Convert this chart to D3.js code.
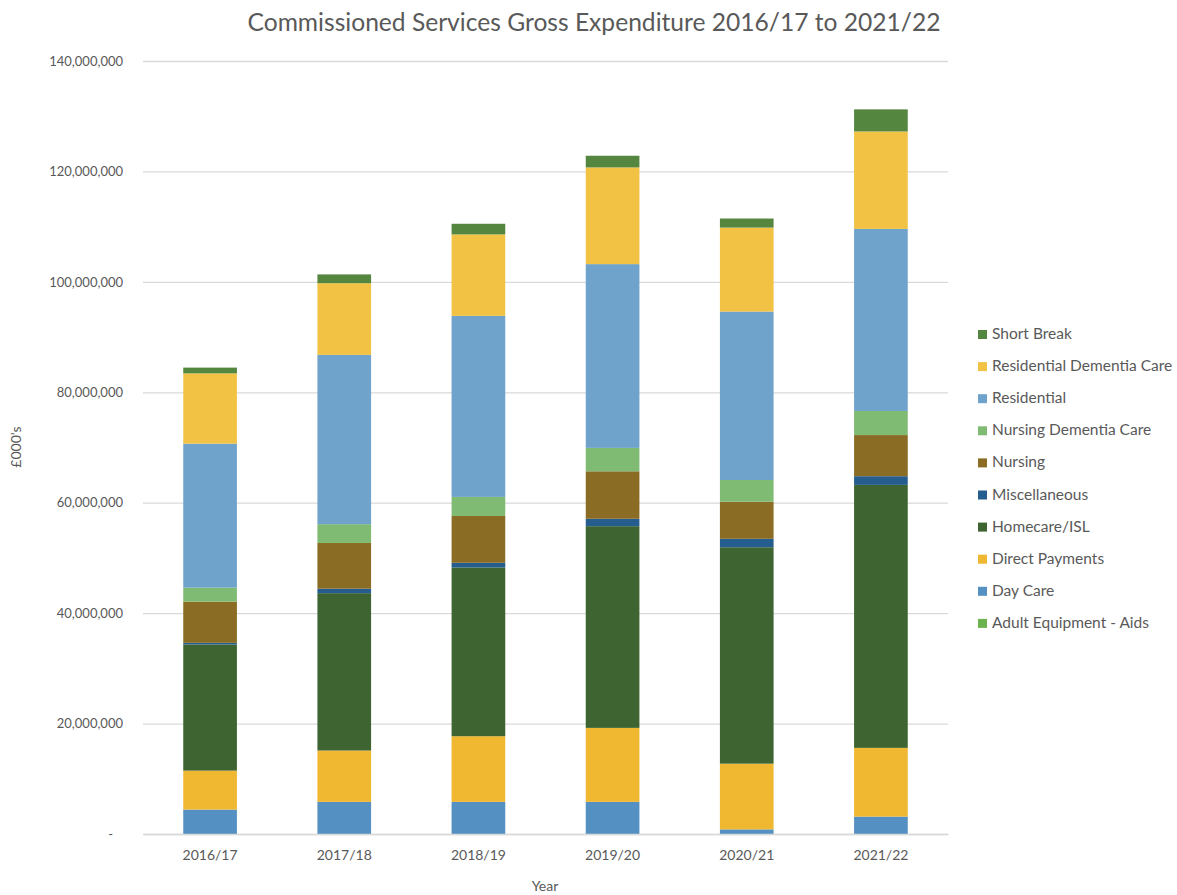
<!DOCTYPE html>
<html>
<head>
<meta charset="utf-8">
<script src="https://cdn.jsdelivr.net/npm/d3@7"></script>
<style>
    body { margin: 0; background: #fff; }
    svg { font-family: Lato, "Open Sans", sans-serif; }
</style>
</head>
<body>
<svg width="1177" height="895"></svg>
<script>
// years on the OX axis
const years = ["2016/17", "2017/18", "2018/19", "2019/20", "2020/21", "2021/22"];

// series values in £, bottom of the stack first
const adultEquipment  = [0, 0, 0, 0, 0, 0];
const dayCare         = [4420000, 5820000, 5820000, 5820000, 840000, 3150000];
const directPayments  = [7060000, 9300000, 11890000, 13400000, 11900000, 12450000];
const homecare        = [22830000, 28500000, 30560000, 36530000, 39190000, 47630000];
const miscellaneous   = [310000, 800000, 850000, 1340000, 1530000, 1570000];
const nursing         = [7450000, 8290000, 8480000, 8600000, 6720000, 7450000];
const nursingDementia = [2550000, 3400000, 3450000, 4240000, 3930000, 4370000];
const residential     = [26080000, 30670000, 32790000, 33280000, 30510000, 32970000];
const resDementia     = [12730000, 12980000, 14750000, 17520000, 15210000, 17650000];
const shortBreak      = [1040000, 1590000, 1930000, 2110000, 1640000, 4000000];

const seriesNames = ["Adult Equipment - Aids", "Day Care", "Direct Payments", "Homecare/ISL",
    "Miscellaneous", "Nursing", "Nursing Dementia Care", "Residential",
    "Residential Dementia Care", "Short Break"];
const seriesValues = [adultEquipment, dayCare, directPayments, homecare, miscellaneous,
    nursing, nursingDementia, residential, resDementia, shortBreak];
const seriesColors = ["#6bb34f", "#5590c3", "#f0b731", "#3e6531", "#245d8e",
    "#8a6c24", "#7fbb72", "#6fa3cc", "#f1c244", "#548640"];

const yTicks = [0, 20000000, 40000000, 60000000, 80000000, 100000000, 120000000, 140000000];

// table for d3.stack
const table = years.map((y, i) => {
    let row = {year: y};
    seriesNames.forEach((name, k) => row[name] = seriesValues[k][i]);
    return row;
});

let svg = d3.select("svg");

// plot area
const area = {left: 143, right: 948, top: 61, bottom: 834};

let scaleX = d3.scaleBand()
    .domain(years)
    .range([area.left, area.right])
    .paddingInner(0.6)
    .paddingOuter(0.3);

let scaleY = d3.scaleLinear()
    .domain([0, 140000000])
    .range([area.bottom, area.top]);

const color = d3.scaleOrdinal().domain(seriesNames).range(seriesColors);

// title
svg.append("text")
    .attr("x", 594)
    .attr("y", 31)
    .attr("text-anchor", "middle")
    .style("font-size", "24.6px")
    .style("fill", "#595959")
    .text("Commissioned Services Gross Expenditure 2016/17 to 2021/22");

// gridlines
svg.append("g")
    .attr("transform", `translate(${area.left},0)`)
    .call(d3.axisLeft(scaleY).tickValues(yTicks).tickSize(-(area.right - area.left)).tickFormat(""))
    .call(g => g.select(".domain").remove())
    .selectAll("line")
    .style("stroke", "#d9d9d9")
    .style("stroke-width", 1.3);

// y axis labels
let axisY = svg.append("g")
    .attr("transform", `translate(${area.left - 20},0)`)
    .call(d3.axisLeft(scaleY).tickValues(yTicks).tickSize(0).tickPadding(0)
        .tickFormat(d => d === 0 ? "-" : d3.format(",")(d)));
axisY.select(".domain").remove();
axisY.selectAll("text")
    .style("font-family", "Lato, sans-serif")
    .style("font-size", "13px")
    .style("fill", "#595959")
    .attr("x", d => d === 0 ? -10 : 0);

// stacked bars
const stacked = d3.stack().keys(seriesNames)(table);

svg.append("g")
    .selectAll("g")
    .data(stacked)
    .enter()
    .append("g")
    .style("fill", d => color(d.key))
    .selectAll("rect")
    .data(d => d)
    .enter()
    .append("rect")
    .attr("x", d => scaleX(d.data.year))
    .attr("y", d => scaleY(d[1]))
    .attr("width", scaleX.bandwidth())
    .attr("height", d => scaleY(d[0]) - scaleY(d[1]));

// x axis
let axisX = svg.append("g")
    .attr("transform", `translate(0,${area.bottom})`)
    .call(d3.axisBottom(scaleX).tickSize(0).tickPadding(16));
axisX.select(".domain")
    .style("stroke", "#d9d9d9")
    .style("stroke-width", 1.3);
axisX.selectAll("text")
    .style("font-family", "Lato, sans-serif")
    .style("font-size", "14px")
    .style("fill", "#595959");

// axis titles
svg.append("text")
    .attr("x", 545)
    .attr("y", 891)
    .attr("text-anchor", "middle")
    .style("font-size", "14px")
    .style("fill", "#595959")
    .text("Year");

svg.append("text")
    .attr("transform", "translate(21,447) rotate(-90)")
    .attr("text-anchor", "middle")
    .style("font-size", "14px")
    .style("fill", "#595959")
    .text("£000's");

// legend (top item = top of the stack)
const legendNames = seriesNames.slice().reverse();
let legend = svg.append("g")
    .selectAll("g")
    .data(legendNames)
    .enter()
    .append("g")
    .attr("transform", (d, i) => `translate(978,${334 + i * 32.1})`);

legend.append("rect")
    .attr("x", 0)
    .attr("y", -4)
    .attr("width", 9)
    .attr("height", 9)
    .style("fill", d => color(d));

legend.append("text")
    .attr("x", 14)
    .attr("y", 5)
    .style("font-size", "15.5px")
    .style("fill", "#595959")
    .text(d => d);
</script>
</body>
</html>
